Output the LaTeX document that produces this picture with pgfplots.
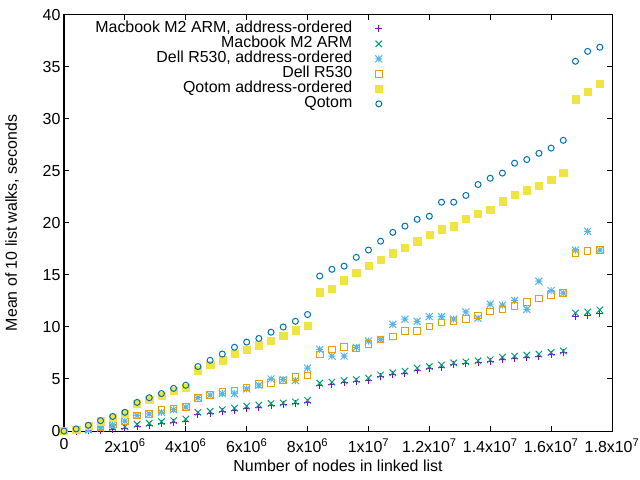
\documentclass[border=0pt]{standalone}
\usepackage{fontspec}
\setmainfont{Liberation Sans}
\usepackage{pgfplots}
\pgfplotsset{compat=1.18}
\definecolor{gpPurple}{HTML}{9400D3}
\definecolor{gpGreen}{HTML}{009E73}
\definecolor{gpLBlue}{HTML}{56B4E9}
\definecolor{gpOrange}{HTML}{E69F00}
\definecolor{gpYellow}{HTML}{F0E442}
\definecolor{gpBlue}{HTML}{0072B2}
\pgfdeclareplotmark{gpplus}{%
  \pgfpathmoveto{\pgfqpoint{-\pgfplotmarksize}{0pt}}\pgfpathlineto{\pgfqpoint{\pgfplotmarksize}{0pt}}%
  \pgfpathmoveto{\pgfqpoint{0pt}{-\pgfplotmarksize}}\pgfpathlineto{\pgfqpoint{0pt}{\pgfplotmarksize}}%
  \pgfusepathqstroke}
\pgfdeclareplotmark{gpcross}{%
  \pgfpathmoveto{\pgfqpoint{-\pgfplotmarksize}{-\pgfplotmarksize}}\pgfpathlineto{\pgfqpoint{\pgfplotmarksize}{\pgfplotmarksize}}%
  \pgfpathmoveto{\pgfqpoint{-\pgfplotmarksize}{\pgfplotmarksize}}\pgfpathlineto{\pgfqpoint{\pgfplotmarksize}{-\pgfplotmarksize}}%
  \pgfusepathqstroke}
\pgfdeclareplotmark{gpstar}{%
  \pgfpathmoveto{\pgfqpoint{-\pgfplotmarksize}{0pt}}\pgfpathlineto{\pgfqpoint{\pgfplotmarksize}{0pt}}%
  \pgfpathmoveto{\pgfqpoint{0pt}{-\pgfplotmarksize}}\pgfpathlineto{\pgfqpoint{0pt}{\pgfplotmarksize}}%
  \pgfpathmoveto{\pgfqpoint{-\pgfplotmarksize}{-\pgfplotmarksize}}\pgfpathlineto{\pgfqpoint{\pgfplotmarksize}{\pgfplotmarksize}}%
  \pgfpathmoveto{\pgfqpoint{-\pgfplotmarksize}{\pgfplotmarksize}}\pgfpathlineto{\pgfqpoint{\pgfplotmarksize}{-\pgfplotmarksize}}%
  \pgfusepathqstroke}
\newcommand{\gpfont}{\fontsize{16}{18}\selectfont}
\begin{document}
\begin{tikzpicture}
\begin{axis}[
  at={(64bp,49bp)}, anchor=south west,
  scale only axis, width=548bp, height=416bp,
  xmin=0, xmax=1.8e7, ymin=0, ymax=40,
  clip=false,
  axis line style={black, line width=1bp},
  tick style={black, line width=1bp},
  major tick length=5bp,
  tick align=inside,
  xtick={0,2e6,4e6,6e6,8e6,1e7,1.2e7,1.4e7,1.6e7,1.8e7},
  xticklabels={0,2x10\textsuperscript{6},4x10\textsuperscript{6},6x10\textsuperscript{6},8x10\textsuperscript{6},1x10\textsuperscript{7},1.2x10\textsuperscript{7},1.4x10\textsuperscript{7},1.6x10\textsuperscript{7},1.8x10\textsuperscript{7}},
  scaled x ticks=false,
  ytick={0,5,...,40},
  /pgf/number format/assume math mode=true,
  tick label style={font=\gpfont},
  xticklabel style={yshift=-4bp},
  label style={font=\gpfont},
  xlabel={Number of nodes in linked list},
  ylabel={Mean of 10 list walks, seconds},
  xlabel style={at={(axis description cs:0.5,-0.0841)}, anchor=center},
  ylabel style={at={(axis description cs:-0.0949,0.5)}, anchor=center},
  only marks,
  legend plot pos=right,
  legend cell align=right,
  legend style={at={(0.5967,0.99)}, anchor=north east, draw=none, fill=none, font=\gpfont,
    nodes={inner sep=0pt, text height=11bp, text depth=4bp}, column sep=17.5bp},
  legend image code/.code={\path (0cm,0cm) (0.6cm,0cm); \draw[#1] plot coordinates {(0.3cm,0cm)};},
]
\addplot[mark=gpplus, color=gpPurple, mark size=3.5bp, line width=1bp] coordinates {
(0,0) (400000,0) (800000,0.02) (1200000,0.08) (1600000,0.15) (2000000,0.2) (2400000,0.45) (2800000,0.55) (3200000,0.7) (3600000,0.8)
(4000000,0.95) (4400000,1.6) (4800000,1.7) (5200000,1.85) (5600000,2.0) (6000000,2.2) (6400000,2.3) (6800000,2.45) (7200000,2.5) (7600000,2.6)
(8000000,2.75) (8400000,4.4) (8800000,4.5) (9200000,4.65) (9600000,4.75) (10000000,4.9) (10400000,5.2) (10800000,5.4) (11200000,5.55) (11600000,5.8)
(12000000,6.0) (12400000,6.15) (12800000,6.35) (13200000,6.45) (13600000,6.55) (14000000,6.65) (14400000,6.9) (14800000,7.0) (15200000,7.1) (15600000,7.2)
(16000000,7.35) (16400000,7.5) (16800000,11.05) (17200000,11.15) (17600000,11.3)};
\addlegendentry{\gpfont Macbook M2 ARM, address-ordered}
\addplot[mark=gpcross, color=gpGreen, mark size=3.2bp, line width=1bp] coordinates {
(0,0) (400000,0.05) (800000,0.1) (1200000,0.25) (1600000,0.35) (2000000,0.4) (2400000,0.65) (2800000,0.75) (3200000,0.9) (3600000,1.0)
(4000000,1.15) (4400000,1.8) (4800000,1.9) (5200000,2.05) (5600000,2.2) (6000000,2.4) (6400000,2.5) (6800000,2.65) (7200000,2.7) (7600000,2.8)
(8000000,2.95) (8400000,4.6) (8800000,4.7) (9200000,4.85) (9600000,4.95) (10000000,5.1) (10400000,5.4) (10800000,5.6) (11200000,5.75) (11600000,6.05)
(12000000,6.2) (12400000,6.35) (12800000,6.55) (13200000,6.65) (13600000,6.75) (14000000,6.85) (14400000,7.1) (14800000,7.2) (15200000,7.3) (15600000,7.4)
(16000000,7.55) (16400000,7.7) (16800000,11.35) (17200000,11.45) (17600000,11.65)};
\addlegendentry{\gpfont Macbook M2 ARM}
\addplot[mark=gpstar, color=gpLBlue, mark size=3.5bp, line width=1bp] coordinates {
(0,0) (400000,0.05) (800000,0.15) (1200000,0.3) (1600000,0.6) (2000000,0.95) (2400000,1.5) (2800000,1.65) (3200000,1.8) (3600000,2.05)
(4000000,2.3) (4400000,3.2) (4800000,3.45) (5200000,3.6) (5600000,3.6) (6000000,4.05) (6400000,4.4) (6800000,5.0) (7200000,4.95) (7600000,4.85)
(8000000,6.05) (8400000,7.85) (8800000,7.2) (9200000,7.2) (9600000,8.05) (10000000,8.65) (10400000,8.8) (10800000,10.25) (11200000,10.75) (11600000,10.55)
(12000000,11.0) (12400000,11.0) (12800000,10.75) (13200000,11.45) (13600000,10.85) (14000000,12.2) (14400000,12.1) (14800000,12.55) (15200000,11.7) (15600000,14.4)
(16000000,13.5) (16400000,13.25) (16800000,17.4) (17200000,19.2) (17600000,17.4)};
\addlegendentry{\gpfont Dell R530, address-ordered}
\addplot[mark=square, color=gpOrange, mark size=3.3bp, line width=1bp] coordinates {
(0,0) (400000,0.1) (800000,0.3) (1200000,0.4) (1600000,0.65) (2000000,0.95) (2400000,1.5) (2800000,1.65) (3200000,2.0) (3600000,2.15)
(4000000,2.3) (4400000,3.2) (4800000,3.45) (5200000,3.75) (5600000,3.9) (6000000,4.2) (6400000,4.5) (6800000,4.6) (7200000,4.85) (7600000,5.2)
(8000000,5.35) (8400000,7.35) (8800000,7.85) (9200000,8.05) (9600000,7.95) (10000000,8.35) (10400000,8.8) (10800000,9.1) (11200000,9.6) (11600000,9.6)
(12000000,10.05) (12400000,10.45) (12800000,10.55) (13200000,10.75) (13600000,11.1) (14000000,11.5) (14400000,11.7) (14800000,12.0) (15200000,12.4) (15600000,12.75)
(16000000,13.05) (16400000,13.25) (16800000,17.1) (17200000,17.3) (17600000,17.4)};
\addlegendentry{\gpfont Dell R530}
\addplot[mark=square*, color=gpYellow, mark size=3.6bp] coordinates {
(0,0) (400000,0.1) (800000,0.5) (1200000,0.95) (1600000,1.3) (2000000,1.65) (2400000,2.6) (2800000,3.0) (3200000,3.4) (3600000,3.85)
(4000000,4.2) (4400000,5.85) (4800000,6.4) (5200000,6.8) (5600000,7.45) (6000000,7.85) (6400000,8.25) (6800000,8.7) (7200000,9.2) (7600000,9.7)
(8000000,10.15) (8400000,13.35) (8800000,13.7) (9200000,14.5) (9600000,15.25) (10000000,15.9) (10400000,16.5) (10800000,17.1) (11200000,17.65) (11600000,18.25)
(12000000,18.9) (12400000,19.4) (12800000,19.7) (13200000,20.45) (13600000,20.9) (14000000,21.3) (14400000,22.1) (14800000,22.75) (15200000,23.15) (15600000,23.6)
(16000000,24.2) (16400000,24.8) (16800000,31.9) (17200000,32.65) (17600000,33.4)};
\addlegendentry{\gpfont Qotom address-ordered}
\addplot[mark=o, color=gpBlue, mark size=3bp, line width=1bp] coordinates {
(0,0) (400000,0.2) (800000,0.55) (1200000,1.0) (1600000,1.4) (2000000,1.8) (2400000,2.75) (2800000,3.2) (3200000,3.6) (3600000,4.1)
(4000000,4.4) (4400000,6.2) (4800000,6.8) (5200000,7.4) (5600000,8.05) (6000000,8.55) (6400000,8.9) (6800000,9.5) (7200000,10.0) (7600000,10.55)
(8000000,11.2) (8400000,14.9) (8800000,15.55) (9200000,15.85) (9600000,16.7) (10000000,17.4) (10400000,18.25) (10800000,19.1) (11200000,19.7) (11600000,20.35)
(12000000,20.65) (12400000,22.0) (12800000,22.0) (13200000,22.65) (13600000,23.7) (14000000,24.3) (14400000,24.8) (14800000,25.75) (15200000,26.1) (15600000,26.7)
(16000000,27.2) (16400000,27.95) (16800000,35.55) (17200000,36.5) (17600000,36.9)};
\addlegendentry{\gpfont Qotom}
\end{axis}
\pgfresetboundingbox
\useasboundingbox (0,0) rectangle (640bp,480bp);
\end{tikzpicture}
\end{document}
